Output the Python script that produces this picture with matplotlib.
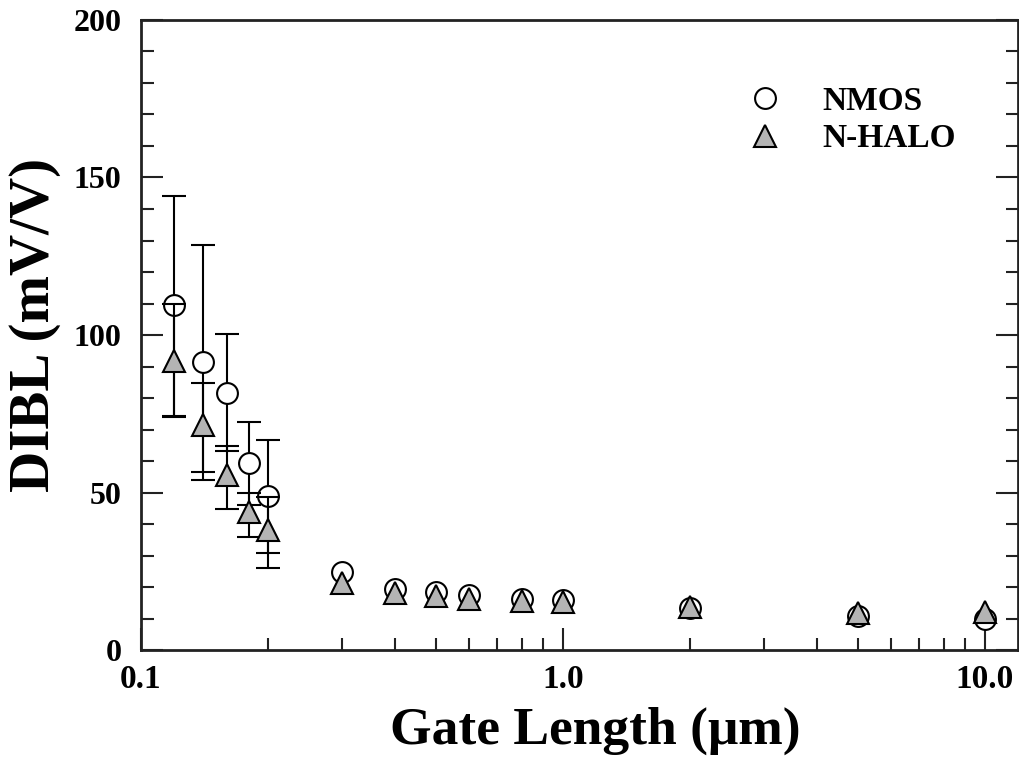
import numpy as np
import matplotlib
matplotlib.use('Agg')
import matplotlib.pyplot as plt
from matplotlib.ticker import FixedLocator, NullFormatter, FixedFormatter

plt.rcParams['font.family'] = ['Liberation Serif', 'DejaVu Serif']
plt.rcParams['font.weight'] = 'bold'

# Gate length (um)
gate_length = [0.12, 0.14, 0.16, 0.18, 0.2, 0.3, 0.4, 0.5, 0.6, 0.8, 1.0, 2.0, 5.0, 10.0]

# NMOS DIBL (mV/V) and error bars
nmos = [109.5, 91.3, 81.6, 59.3, 48.9, 24.7, 19.5, 18.4, 17.6, 16.3, 16.0, 13.4, 10.8, 9.7]
nmos_err_lo = [35.5, 37.3, 18.4, 13.2, 18.0, 0, 0, 0, 0, 0, 0, 0, 0, 0]
nmos_err_hi = [34.5, 37.3, 18.6, 13.1, 17.8, 0, 0, 0, 0, 0, 0, 0, 0, 0]

# N-HALO DIBL (mV/V) and error bars
halo = [91.8, 71.5, 55.7, 43.7, 38.0, 21.4, 18.1, 17.1, 16.3, 15.6, 15.3, 13.7, 11.6, 12.1]
halo_err_lo = [17.5, 15.0, 10.8, 7.9, 11.9, 0, 0, 0, 0, 0, 0, 0, 0, 0]
halo_err_hi = [18.0, 13.2, 9.1, 6.3, 10.5, 0, 0, 0, 0, 0, 0, 0, 0, 0]

fig = plt.figure(figsize=(10.2, 7.6), dpi=100)
ax = fig.add_axes([0.1382, 0.1447, 0.998 - 0.1382, 0.9737 - 0.1447])

n_err = 5
# error bars only on the short channel points
ax.errorbar(gate_length[:n_err], nmos[:n_err],
            yerr=[nmos_err_lo[:n_err], nmos_err_hi[:n_err]],
            fmt='none', ecolor='black', elinewidth=1.5, capsize=8.5, capthick=1.5, zorder=2)
ax.plot(gate_length, nmos, linestyle='none', marker='o', markersize=15,
        markerfacecolor='white', markeredgecolor='black', markeredgewidth=1.5,
        label='NMOS', zorder=3)
ax.errorbar(gate_length[:n_err], halo[:n_err],
            yerr=[halo_err_lo[:n_err], halo_err_hi[:n_err]],
            fmt='none', ecolor='black', elinewidth=1.5, capsize=8.5, capthick=1.5, zorder=4)
ax.plot(gate_length, halo, linestyle='none', marker='^', markersize=15.5,
        markerfacecolor='#b4b4b4', markeredgecolor='black', markeredgewidth=1.5,
        label='N-HALO', zorder=5)

ax.set_xscale('log')
ax.set_xlim(0.1, 12.0)
ax.set_ylim(0, 200)

ax.xaxis.set_major_locator(FixedLocator([0.1, 1.0, 10.0]))
ax.xaxis.set_major_formatter(FixedFormatter(['0.1', '1.0', '10.0']))
minor_x = [m * d for d in [0.1, 1.0, 10.0] for m in range(2, 10) if m * d <= 12]
ax.xaxis.set_minor_locator(FixedLocator(minor_x))
ax.xaxis.set_minor_formatter(NullFormatter())
ax.yaxis.set_major_locator(FixedLocator([0, 50, 100, 150, 200]))
ax.yaxis.set_minor_locator(FixedLocator(np.arange(0, 201, 10)))

ax.tick_params(which='both', direction='in', top=False, right=True, width=1.5, color='#222222')
ax.tick_params(which='major', length=16)
ax.tick_params(which='minor', length=9)
ax.tick_params(axis='x', which='major', labelsize=24, pad=10)
ax.tick_params(axis='y', which='major', labelsize=23, pad=14)
for lab in ax.get_xticklabels() + ax.get_yticklabels():
    lab.set_fontweight('bold')

for s in ax.spines.values():
    s.set_linewidth(2)
    s.set_color('#222222')

ax.set_xlabel('Gate Length (\u03bcm)', fontsize=38.5, fontweight='bold')
ax.xaxis.label.set_verticalalignment('baseline')
ax.xaxis.set_label_coords(0.518, -0.148)
ax.set_ylabel('DIBL (mV/V)', fontsize=41, fontweight='bold')
ax.yaxis.label.set_verticalalignment('center')
ax.yaxis.set_label_coords(-0.121, 0.516)

leg = ax.legend(loc='upper left', bbox_to_anchor=(0.6927, 0.896), frameon=False,
                prop={'size': 24, 'weight': 'bold'}, handlelength=1.0,
                handletextpad=1.23, labelspacing=0.2, borderpad=0, borderaxespad=0)

fig.savefig('out.png', dpi=100)
